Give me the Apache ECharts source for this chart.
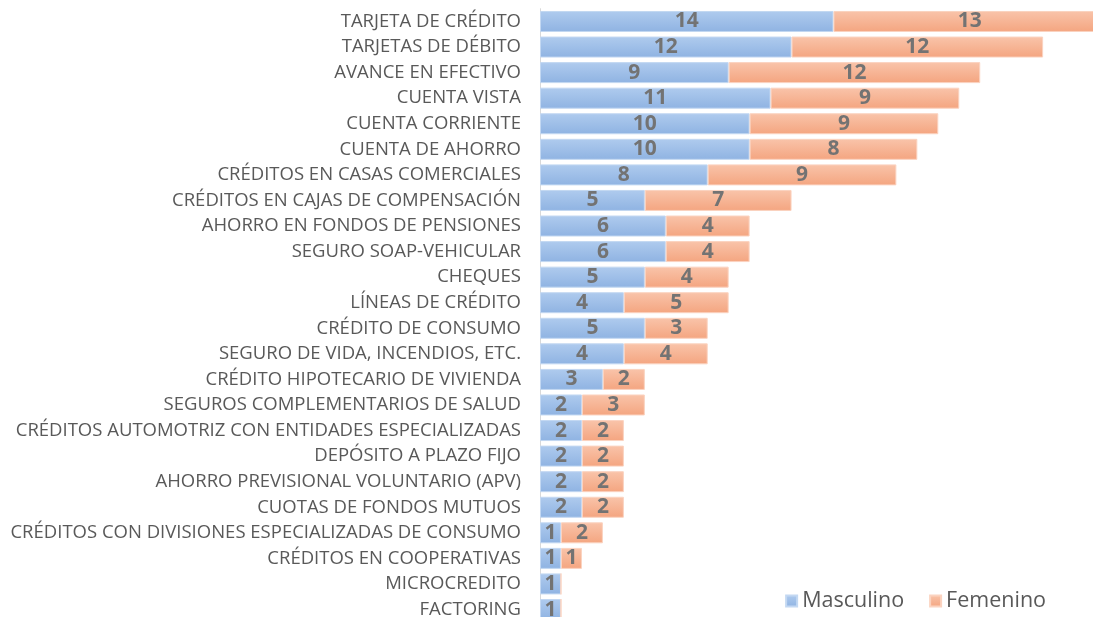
<!DOCTYPE html>
<html>
<head>
<meta charset="utf-8">
<script src="https://cdn.jsdelivr.net/npm/echarts@6/dist/echarts.min.js"></script>
<style>
  html, body { margin: 0; padding: 0; background: #fff; }
  #chart { width: 1093px; height: 617px; }
</style>
</head>
<body>
<div id="chart"></div>
<script>
var categories = [
  'TARJETA DE CRÉDITO', 'TARJETAS DE DÉBITO', 'AVANCE EN EFECTIVO', 'CUENTA VISTA',
  'CUENTA CORRIENTE', 'CUENTA DE AHORRO', 'CRÉDITOS EN CASAS COMERCIALES',
  'CRÉDITOS EN CAJAS DE COMPENSACIÓN', 'AHORRO EN FONDOS DE PENSIONES',
  'SEGURO SOAP-VEHICULAR', 'CHEQUES', 'LÍNEAS DE CRÉDITO', 'CRÉDITO DE CONSUMO',
  'SEGURO DE VIDA, INCENDIOS, ETC.', 'CRÉDITO HIPOTECARIO DE VIVIENDA',
  'SEGUROS COMPLEMENTARIOS DE SALUD', 'CRÉDITOS AUTOMOTRIZ CON ENTIDADES ESPECIALIZADAS',
  'DEPÓSITO A PLAZO FIJO', 'AHORRO PREVISIONAL VOLUNTARIO (APV)', 'CUOTAS DE FONDOS MUTUOS',
  'CRÉDITOS CON DIVISIONES ESPECIALIZADAS DE CONSUMO', 'CRÉDITOS EN COOPERATIVAS',
  'MICROCREDITO', 'FACTORING'
];
var masculino = [14, 12, 9, 11, 10, 10, 8, 5, 6, 6, 5, 4, 5, 4, 3, 2, 2, 2, 2, 2, 1, 1, 1, 1];
var femenino = [13, 12, 12, 9, 9, 8, 9, 7, 4, 4, 4, 5, 3, 4, 2, 3, 2, 2, 2, 2, 2, 1, 0, 0];

var chart = echarts.init(document.getElementById('chart'));

function grad(top, bottom) {
  return new echarts.graphic.LinearGradient(0, 0, 0, 1, [
    { offset: 0, color: top },
    { offset: 1, color: bottom }
  ]);
}

var valueLabel = {
  show: true,
  position: 'inside',
  fontFamily: 'Open Sans',
  fontWeight: 'bold',
  fontSize: 21,
  color: '#737373',
  formatter: function (p) { return p.value ? p.value : ''; }
};

var option = {
  animation: false,
  // grid runs past the right/bottom edge like the original export
  grid: {
    left: 540, top: 8.7, width: 566, height: 613.6,
    containLabel: false, outerBoundsMode: 'none'
  },
  legend: {
    data: ['Masculino', 'Femenino'],
    right: 42,
    bottom: 0,
    itemWidth: 11,
    itemHeight: 11,
    itemGap: 25,
    icon: 'rect',
    textStyle: { fontFamily: 'Open Sans', fontSize: 21.5, color: '#595959' }
  },
  xAxis: {
    type: 'value',
    min: 0,
    max: 27,
    show: false
  },
  yAxis: {
    type: 'category',
    inverse: true,
    data: categories,
    axisLine: { show: true, lineStyle: { color: '#d9d9d9', width: 1 } },
    axisTick: { show: false },
    axisLabel: {
      fontFamily: 'Open Sans',
      fontSize: 18.5,
      color: '#595959',
      margin: 19
    }
  },
  series: [
    {
      name: 'Masculino',
      type: 'bar',
      stack: 'total',
      barWidth: 21,
      data: masculino,
      itemStyle: {
        color: grad('#afcbee', '#8fb3e2'),
        borderColor: '#c3d8f2',
        borderWidth: 1
      },
      label: valueLabel
    },
    {
      name: 'Femenino',
      type: 'bar',
      stack: 'total',
      barWidth: 21,
      data: femenino,
      itemStyle: {
        color: grad('#f9c4aa', '#f4a580'),
        borderColor: '#fbd3c0',
        borderWidth: 1
      },
      label: valueLabel
    }
  ]
};
chart.setOption(option);
</script>
</body>
</html>
